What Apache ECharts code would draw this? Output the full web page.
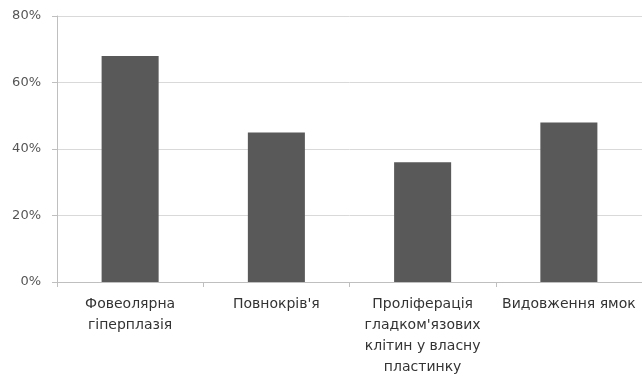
<!DOCTYPE html>
<html>
<head>
<meta charset="utf-8">
<script src="https://cdn.jsdelivr.net/npm/echarts@6/dist/echarts.min.js"></script>
<style>
  html, body { margin: 0; padding: 0; background: #fff; }
  #chart { width: 642px; height: 385px; }
</style>
</head>
<body>
<div id="chart"></div>
<script>
  var categories = ['Фовеолярна\nгіперплазія', 'Повнокрів\'я', 'Проліферація\nгладком\'язових\nклітин у власну\nпластинку', 'Видовження ямок'];
  var values = [68, 45, 36, 48];
  var yTicks = [0, 20, 40, 60, 80];

  var chart = echarts.init(document.getElementById('chart'));
  chart.setOption({
    animation: false,
    grid: { left: 57, right: 0, top: 16, bottom: 103 },
    xAxis: {
      type: 'category',
      data: categories,
      axisLine: { lineStyle: { color: '#bfbfbf', width: 1 } },
      axisTick: { show: true, alignWithLabel: false, length: 5, lineStyle: { color: '#bfbfbf' } },
      axisLabel: {
        interval: 0,
        color: '#333',
        fontSize: 14,
        lineHeight: 21,
        margin: 12,
        fontFamily: 'DejaVu Sans'
      }
    },
    yAxis: {
      type: 'value',
      min: yTicks[0],
      max: yTicks[yTicks.length - 1],
      interval: 20,
      axisLine: { show: true, lineStyle: { color: '#bfbfbf' } },
      axisTick: { show: true, length: 5, lineStyle: { color: '#bfbfbf' } },
      splitLine: { lineStyle: { color: '#d9d9d9' } },
      axisLabel: {
        formatter: '{value}%',
        color: '#555',
        fontSize: 13,
        margin: 16,
        fontFamily: 'DejaVu Sans'
      }
    },
    series: [{
      type: 'bar',
      data: values,
      barWidth: '39%',
      itemStyle: { color: '#595959' }
    }]
  });
</script>
</body>
</html>
